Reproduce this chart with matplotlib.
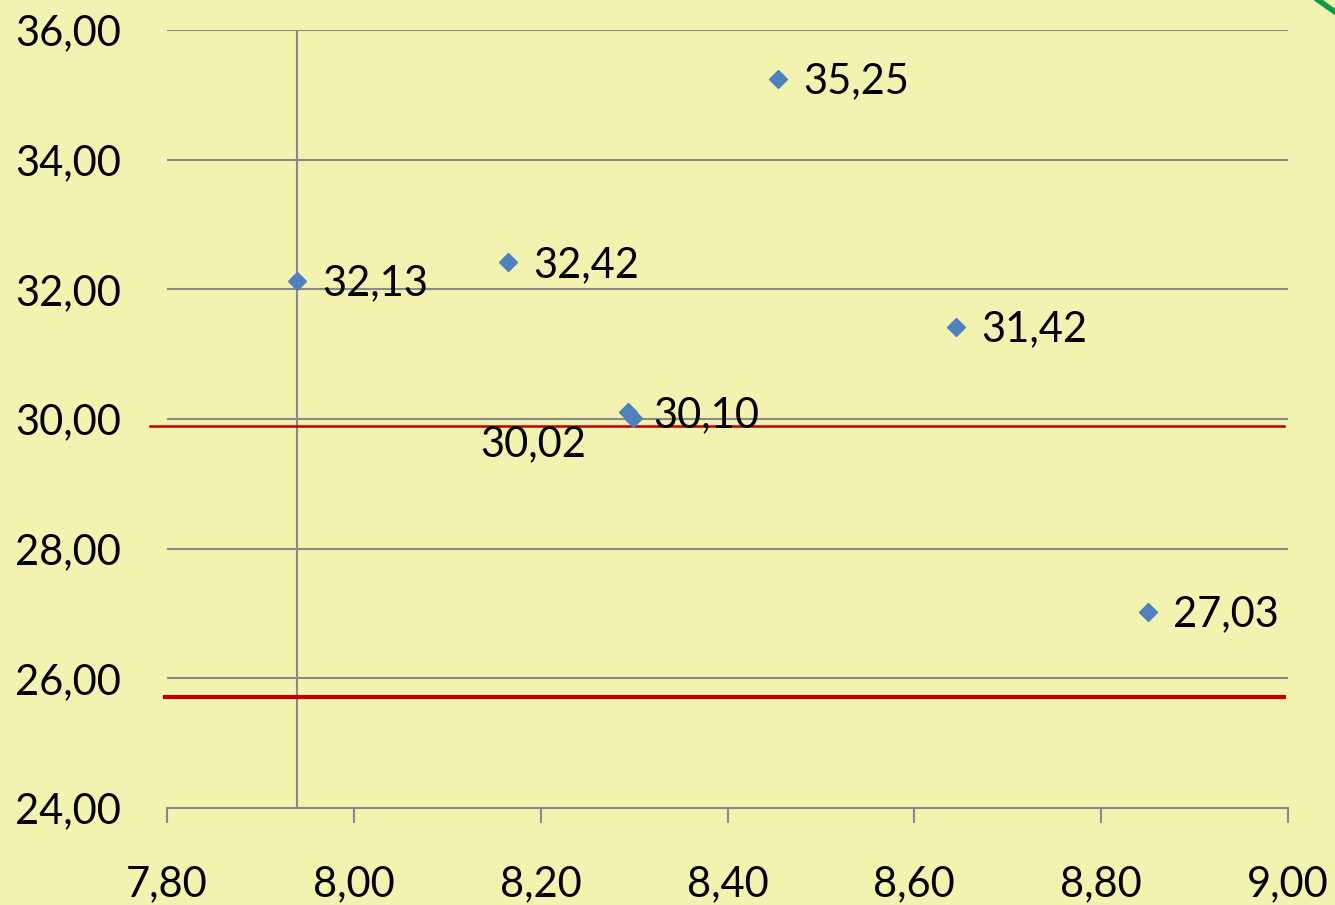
import matplotlib
matplotlib.use("Agg")
import matplotlib.pyplot as plt
from matplotlib.lines import Line2D

# ---------- Dados ----------
x_vals = [7.939, 8.165, 8.294, 8.299, 8.454, 8.645, 8.850]
y_vals = [32.13, 32.42, 30.10, 30.02, 35.25, 31.42, 27.03]
rotulos = ["32,13", "32,42", "30,10", "30,02", "35,25", "31,42", "27,03"]
x_cruza = 7.939           # onde o eixo vertical cruza
linhas_ref = [29.89, 25.71]
x_ticks = [7.80, 8.00, 8.20, 8.40, 8.60, 8.80, 9.00]
y_ticks = [24, 26, 28, 30, 32, 34, 36]

fundo = "#F2F2B1"
cinza = "#8A8A8A"
vermelho = "#C00000"
azul = "#4F81BD"

plt.rcParams['font.family'] = ['Lato', 'DejaVu Sans']

fig = plt.figure(figsize=(13.35, 9.05), dpi=100, facecolor=fundo)
ax = fig.add_axes([0.1251, 0.1072, 0.8397, 0.8597])
ax.set_facecolor(fundo)

ax.set_xlim(7.80, 9.00)
ax.set_ylim(24, 36)
ax.set_xticks(x_ticks)
ax.set_yticks(y_ticks)
ax.set_xticklabels([f"{v:.2f}".replace(".", ",") for v in x_ticks])
ax.set_yticklabels([f"{v:.2f}".replace(".", ",") for v in y_ticks])

for s in ["top", "right", "left"]:
    ax.spines[s].set_visible(False)
ax.spines["bottom"].set_color(cinza)
ax.spines["bottom"].set_linewidth(1.5)

ax.tick_params(axis="x", length=11, width=1.5, color=cinza, labelsize=30, pad=30)
ax.tick_params(axis="y", length=0, labelsize=30, pad=33)

ax.yaxis.grid(True, color=cinza, linewidth=1.5)
ax.set_axisbelow(True)

# eixo vertical cruzando em x_cruza
ax.axvline(x_cruza, color=cinza, linewidth=1.5, zorder=1)

# linhas de referencia (vermelhas)
ax.plot([7.782, 8.996], [linhas_ref[0]] * 2, color=vermelho, lw=1.8,
        clip_on=False, zorder=2)
ax.plot([7.798, 8.996], [linhas_ref[1]] * 2, color=vermelho, lw=3,
        clip_on=False, zorder=2)

ax.plot(x_vals, y_vals, linestyle="none", marker="D", markersize=9,
        color=azul, zorder=3, clip_on=False)

for x, y, r in zip(x_vals, y_vals, rotulos):
    if r == "30,02":
        ax.annotate(r, (x, y), xytext=(-72, -19), textcoords="offset points",
                    ha="center", va="center", fontsize=30, zorder=4)
    else:
        ax.annotate(r, (x, y), xytext=(18, -2), textcoords="offset points",
                    ha="left", va="center", fontsize=30, zorder=4)

# arco verde no canto
fig.add_artist(Line2D([1318 / 1335, 1.0], [1.0, 1 - 12 / 905],
                      transform=fig.transFigure, color="#0E9A48", lw=4))

fig.savefig("out.png", dpi=100, facecolor=fundo)
